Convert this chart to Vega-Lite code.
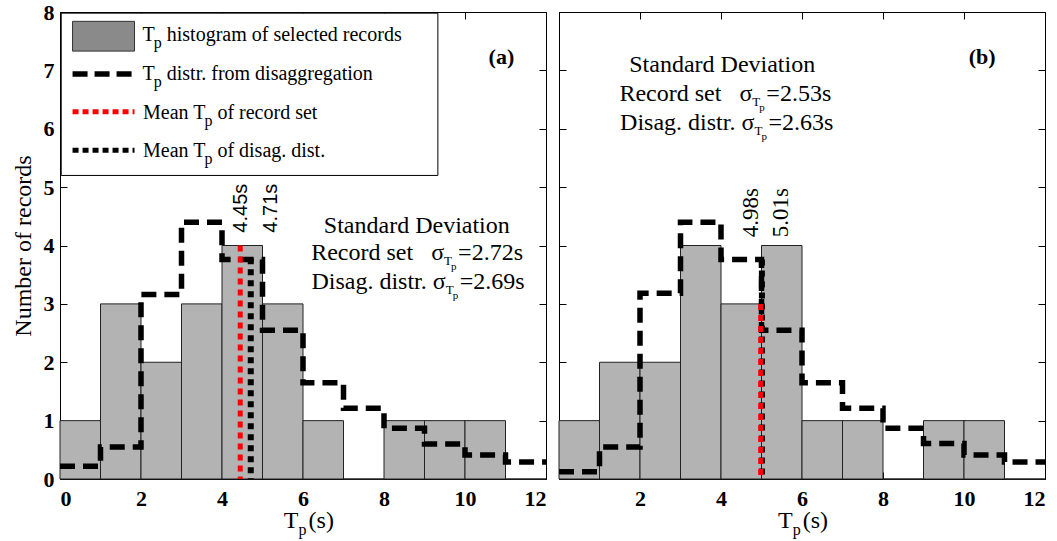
{
  "$schema": "https://vega.github.io/schema/vega-lite/v6.json",
  "background": "white",
  "padding": {"left": 10, "top": 0, "right": 0, "bottom": 0},
  "bounds": "flush",
  "spacing": 13,
  "config": {
    "view": {"stroke": "black", "strokeWidth": 1},
    "axis": {"domain": false, "grid": false, "tickColor": "black", "tickSize": -7, "tickWidth": 1,
      "labelFont": "Liberation Serif", "labelFontSize": 22, "labelFontWeight": "bold", "labelColor": "black", "labelPadding": 16,
      "titleFont": "Liberation Serif", "titleFontSize": 24, "titleFontWeight": "normal", "titleColor": "black"},
    "text": {"font": "Liberation Serif", "color": "black"}
  },
  "datasets": {
    "bars": [
      {"panel": "a", "start": 0, "end": 1, "count": 1}, {"panel": "a", "start": 1, "end": 2, "count": 3},
      {"panel": "a", "start": 2, "end": 3, "count": 2}, {"panel": "a", "start": 3, "end": 4, "count": 3},
      {"panel": "a", "start": 4, "end": 5, "count": 4}, {"panel": "a", "start": 5, "end": 6, "count": 3},
      {"panel": "a", "start": 6, "end": 7, "count": 1}, {"panel": "a", "start": 7, "end": 8, "count": 0},
      {"panel": "a", "start": 8, "end": 9, "count": 1}, {"panel": "a", "start": 9, "end": 10, "count": 1},
      {"panel": "a", "start": 10, "end": 11, "count": 1}, {"panel": "a", "start": 11, "end": 12, "count": 0},
      {"panel": "b", "start": 0, "end": 1, "count": 1}, {"panel": "b", "start": 1, "end": 2, "count": 2},
      {"panel": "b", "start": 2, "end": 3, "count": 2}, {"panel": "b", "start": 3, "end": 4, "count": 4},
      {"panel": "b", "start": 4, "end": 5, "count": 3}, {"panel": "b", "start": 5, "end": 6, "count": 4},
      {"panel": "b", "start": 6, "end": 7, "count": 1}, {"panel": "b", "start": 7, "end": 8, "count": 1},
      {"panel": "b", "start": 8, "end": 9, "count": 0}, {"panel": "b", "start": 9, "end": 10, "count": 1},
      {"panel": "b", "start": 10, "end": 11, "count": 1}, {"panel": "b", "start": 11, "end": 12, "count": 0}
    ],
    "steps": [
      {"panel": "a", "tp": 0, "n": 0.22}, {"panel": "a", "tp": 1, "n": 0.55}, {"panel": "a", "tp": 2, "n": 3.16},
      {"panel": "a", "tp": 3, "n": 4.40}, {"panel": "a", "tp": 4, "n": 3.76}, {"panel": "a", "tp": 5, "n": 2.55},
      {"panel": "a", "tp": 6, "n": 1.65}, {"panel": "a", "tp": 7, "n": 1.21}, {"panel": "a", "tp": 8, "n": 0.87},
      {"panel": "a", "tp": 9, "n": 0.60}, {"panel": "a", "tp": 10, "n": 0.41}, {"panel": "a", "tp": 11, "n": 0.29},
      {"panel": "a", "tp": 12, "n": 0.29},
      {"panel": "b", "tp": 0, "n": 0.125}, {"panel": "b", "tp": 1, "n": 0.55}, {"panel": "b", "tp": 2, "n": 3.18},
      {"panel": "b", "tp": 3, "n": 4.40}, {"panel": "b", "tp": 4, "n": 3.76}, {"panel": "b", "tp": 5, "n": 2.55},
      {"panel": "b", "tp": 6, "n": 1.65}, {"panel": "b", "tp": 7, "n": 1.21}, {"panel": "b", "tp": 8, "n": 0.87},
      {"panel": "b", "tp": 9, "n": 0.61}, {"panel": "b", "tp": 10, "n": 0.41}, {"panel": "b", "tp": 11, "n": 0.29},
      {"panel": "b", "tp": 12, "n": 0.29}
    ],
    "means": [
      {"panel": "a", "kind": "record", "tp": 4.45, "top": 4.0},
      {"panel": "a", "kind": "disag", "tp": 4.71, "top": 3.78},
      {"panel": "b", "kind": "record", "tp": 4.98, "top": 3.0},
      {"panel": "b", "kind": "disag", "tp": 5.01, "top": 3.76}
    ],
    "meanlabels": [
      {"panel": "a", "label": "4.45s", "lx": 4.48, "ly": 4.22},
      {"panel": "a", "label": "4.71s", "lx": 5.22, "ly": 4.22},
      {"panel": "b", "label": "4.98s", "lx": 4.73, "ly": 4.14},
      {"panel": "b", "label": "5.01s", "lx": 5.47, "ly": 4.14}
    ],
    "sdhead": [
      {"panel": "a", "text": "Standard Deviation", "x": 8.81, "y": 4.22},
      {"panel": "b", "text": "Standard Deviation", "x": 4.03, "y": 6.98}
    ],
    "sdlines": [
      {"panel": "a", "pre": "Record set\u00a0\u00a0\u00a0σ", "post": "=2.72s", "x": 9.83, "y": 3.76},
      {"panel": "a", "pre": "Disag. distr. σ", "post": "=2.69s", "x": 9.87, "y": 3.26},
      {"panel": "b", "pre": "Record set\u00a0\u00a0\u00a0σ", "post": "=2.53s", "x": 5.12, "y": 6.47},
      {"panel": "b", "pre": "Disag. distr. σ", "post": "=2.63s", "x": 5.17, "y": 5.98}
    ],
    "letters": [
      {"panel": "a", "text": "(a)", "x": 10.9, "y": 7.23},
      {"panel": "b", "text": "(b)", "x": 10.45, "y": 7.23}
    ],
    "xtitle": [
      {"panel": "a", "x": 5.89, "y": -0.84},
      {"panel": "b", "x": 5.77, "y": -0.84}
    ],
    "legendbox": [{"x": 0.03, "x2": 9.33, "y": 5.2, "y2": 7.98}],
    "legendswatch": [{"x": 0.31, "x2": 1.84, "y": 7.33, "y2": 7.84}],
    "legendlines": [
      {"item": "dist", "x": 0.31, "x2": 1.84, "y": 6.94},
      {"item": "meanrec", "x": 0.31, "x2": 1.84, "y": 6.29},
      {"item": "meandis", "x": 0.31, "x2": 1.84, "y": 5.63}
    ],
    "legendtext": [
      {"pre": "T", "post": "histogram of selected records", "x": 2.34, "y": 7.51},
      {"pre": "T", "post": "distr. from disaggregation", "x": 2.34, "y": 6.84},
      {"pre": "Mean T", "post": "of record set", "x": 3.59, "y": 6.17},
      {"pre": "Mean T", "post": "of disag. dist.", "x": 3.59, "y": 5.52}
    ]
  },
  "hconcat": [
    {
      "width": 486, "height": 467,
      "resolve": {"axis": {"x": "independent", "y": "independent"}},
      "layer": [
        {"data": {"name": "bars"}, "transform": [{"filter": "datum.panel == 'a'"}],
         "mark": {"type": "rect", "fill": "#b3b3b3", "stroke": "#222222", "strokeWidth": 1},
         "encoding": {
           "x": {"field": "start", "type": "quantitative", "scale": {"domain": [0, 12], "nice": false, "zero": false},
                 "axis": {"orient": "bottom", "values": [0, 2, 4, 6, 8, 10, 12], "title": null}},
           "x2": {"field": "end"},
           "y": {"field": "count", "type": "quantitative", "scale": {"domain": [0, 8], "nice": false},
                 "axis": {"orient": "left", "values": [0, 1, 2, 3, 4, 5, 6, 7, 8], "title": "Number of records", "titlePadding": 8, "labelPadding": 13}},
           "y2": {"datum": 0}
         }},
        {"data": {"name": "steps"}, "transform": [{"filter": "datum.panel == 'a'"}],
         "mark": {"type": "line", "interpolate": "step-after", "color": "black", "strokeWidth": 5.5, "strokeDash": [15, 8], "strokeCap": "butt"},
         "encoding": {
           "x": {"field": "tp", "type": "quantitative", "axis": {"orient": "top", "values": [0, 2, 4, 6, 8, 10, 12], "labels": false, "title": null}},
           "y": {"field": "n", "type": "quantitative", "axis": {"orient": "right", "values": [0, 1, 2, 3, 4, 5, 6, 7, 8], "labels": false, "title": null}}
         }},
        {"data": {"name": "means"}, "transform": [{"filter": "datum.panel == 'a' && datum.kind == 'disag'"}],
         "mark": {"type": "rule", "color": "black", "strokeWidth": 6, "strokeDash": [6, 5], "strokeCap": "butt"},
         "encoding": {"x": {"field": "tp", "type": "quantitative", "axis": null},
                      "y": {"field": "top", "type": "quantitative", "axis": null}, "y2": {"datum": 0}}},
        {"data": {"name": "means"}, "transform": [{"filter": "datum.panel == 'a' && datum.kind == 'record'"}],
         "mark": {"type": "rule", "color": "#ff0000", "strokeWidth": 5, "strokeDash": [6, 5], "strokeCap": "butt"},
         "encoding": {"x": {"field": "tp", "type": "quantitative", "axis": null},
                      "y": {"field": "top", "type": "quantitative", "axis": null}, "y2": {"datum": 0}}},
        {"data": {"name": "meanlabels"}, "transform": [{"filter": "datum.panel == 'a'"}],
         "mark": {"type": "text", "angle": 270, "align": "left", "baseline": "middle", "font": "Liberation Sans", "fontSize": 20},
         "encoding": {"x": {"field": "lx", "type": "quantitative", "axis": null}, "y": {"field": "ly", "type": "quantitative", "axis": null}, "text": {"field": "label"}}},
        {"data": {"name": "sdhead"}, "transform": [{"filter": "datum.panel == 'a'"}],
         "mark": {"type": "text", "align": "center", "baseline": "alphabetic", "fontSize": 24},
         "encoding": {"x": {"field": "x", "type": "quantitative", "axis": null}, "y": {"field": "y", "type": "quantitative", "axis": null}, "text": {"field": "text"}}},
        {"data": {"name": "sdlines"}, "transform": [{"filter": "datum.panel == 'a'"}],
         "mark": {"type": "text", "align": "right", "baseline": "alphabetic", "fontSize": 24, "dx": -14},
         "encoding": {"x": {"field": "x", "type": "quantitative", "axis": null}, "y": {"field": "y", "type": "quantitative", "axis": null}, "text": {"field": "pre"}}},
        {"data": {"name": "sdlines"}, "transform": [{"filter": "datum.panel == 'a'"}],
         "mark": {"type": "text", "align": "left", "baseline": "alphabetic", "fontSize": 13, "dx": -14, "dy": 5, "text": "T"},
         "encoding": {"x": {"field": "x", "type": "quantitative", "axis": null}, "y": {"field": "y", "type": "quantitative", "axis": null}}},
        {"data": {"name": "sdlines"}, "transform": [{"filter": "datum.panel == 'a'"}],
         "mark": {"type": "text", "align": "left", "baseline": "alphabetic", "fontSize": 11, "dx": -7, "dy": 10, "text": "p"},
         "encoding": {"x": {"field": "x", "type": "quantitative", "axis": null}, "y": {"field": "y", "type": "quantitative", "axis": null}}},
        {"data": {"name": "sdlines"}, "transform": [{"filter": "datum.panel == 'a'"}],
         "mark": {"type": "text", "align": "left", "baseline": "alphabetic", "fontSize": 24},
         "encoding": {"x": {"field": "x", "type": "quantitative", "axis": null}, "y": {"field": "y", "type": "quantitative", "axis": null}, "text": {"field": "post"}}},
        {"data": {"name": "letters"}, "transform": [{"filter": "datum.panel == 'a'"}],
         "mark": {"type": "text", "align": "center", "baseline": "middle", "fontSize": 22, "fontWeight": "bold"},
         "encoding": {"x": {"field": "x", "type": "quantitative", "axis": null}, "y": {"field": "y", "type": "quantitative", "axis": null}, "text": {"field": "text"}}},
        {"data": {"name": "xtitle"}, "transform": [{"filter": "datum.panel == 'a'"}],
         "mark": {"type": "text", "align": "right", "baseline": "alphabetic", "fontSize": 24, "text": "T"},
         "encoding": {"x": {"field": "x", "type": "quantitative", "axis": null}, "y": {"field": "y", "type": "quantitative", "axis": null}}},
        {"data": {"name": "xtitle"}, "transform": [{"filter": "datum.panel == 'a'"}],
         "mark": {"type": "text", "align": "left", "baseline": "alphabetic", "fontSize": 16, "dy": 7, "text": "p"},
         "encoding": {"x": {"field": "x", "type": "quantitative", "axis": null}, "y": {"field": "y", "type": "quantitative", "axis": null}}},
        {"data": {"name": "xtitle"}, "transform": [{"filter": "datum.panel == 'a'"}],
         "mark": {"type": "text", "align": "left", "baseline": "alphabetic", "fontSize": 24, "dx": 10, "text": "(s)"},
         "encoding": {"x": {"field": "x", "type": "quantitative", "axis": null}, "y": {"field": "y", "type": "quantitative", "axis": null}}},
        {"data": {"name": "legendbox"},
         "mark": {"type": "rect", "fill": "white", "stroke": "black", "strokeWidth": 1},
         "encoding": {"x": {"field": "x", "type": "quantitative", "axis": null}, "x2": {"field": "x2"},
                      "y": {"field": "y", "type": "quantitative", "axis": null}, "y2": {"field": "y2"}}},
        {"data": {"name": "legendswatch"},
         "mark": {"type": "rect", "fill": "#8a8a8a", "stroke": "#333333", "strokeWidth": 1},
         "encoding": {"x": {"field": "x", "type": "quantitative", "axis": null}, "x2": {"field": "x2"},
                      "y": {"field": "y", "type": "quantitative", "axis": null}, "y2": {"field": "y2"}}},
        {"data": {"name": "legendlines"}, "transform": [{"filter": "datum.item == 'dist'"}],
         "mark": {"type": "rule", "color": "black", "strokeWidth": 5.5, "strokeDash": [15, 7], "strokeCap": "butt"},
         "encoding": {"x": {"field": "x", "type": "quantitative", "axis": null}, "x2": {"field": "x2"}, "y": {"field": "y", "type": "quantitative", "axis": null}}},
        {"data": {"name": "legendlines"}, "transform": [{"filter": "datum.item == 'meanrec'"}],
         "mark": {"type": "rule", "color": "#ff0000", "strokeWidth": 5, "strokeDash": [6, 4], "strokeCap": "butt"},
         "encoding": {"x": {"field": "x", "type": "quantitative", "axis": null}, "x2": {"field": "x2"}, "y": {"field": "y", "type": "quantitative", "axis": null}}},
        {"data": {"name": "legendlines"}, "transform": [{"filter": "datum.item == 'meandis'"}],
         "mark": {"type": "rule", "color": "black", "strokeWidth": 5, "strokeDash": [6, 4], "strokeCap": "butt"},
         "encoding": {"x": {"field": "x", "type": "quantitative", "axis": null}, "x2": {"field": "x2"}, "y": {"field": "y", "type": "quantitative", "axis": null}}},
        {"data": {"name": "legendtext"},
         "mark": {"type": "text", "align": "right", "baseline": "alphabetic", "fontSize": 20},
         "encoding": {"x": {"field": "x", "type": "quantitative", "axis": null}, "y": {"field": "y", "type": "quantitative", "axis": null}, "text": {"field": "pre"}}},
        {"data": {"name": "legendtext"},
         "mark": {"type": "text", "align": "left", "baseline": "alphabetic", "fontSize": 16, "dx": -1, "dy": 7, "text": "p"},
         "encoding": {"x": {"field": "x", "type": "quantitative", "axis": null}, "y": {"field": "y", "type": "quantitative", "axis": null}}},
        {"data": {"name": "legendtext"},
         "mark": {"type": "text", "align": "left", "baseline": "alphabetic", "fontSize": 20, "dx": 12},
         "encoding": {"x": {"field": "x", "type": "quantitative", "axis": null}, "y": {"field": "y", "type": "quantitative", "axis": null}, "text": {"field": "post"}}}
      ]
    },
    {
      "width": 486, "height": 467,
      "resolve": {"axis": {"x": "independent", "y": "independent"}},
      "layer": [
        {"data": {"name": "bars"}, "transform": [{"filter": "datum.panel == 'b'"}],
         "mark": {"type": "rect", "fill": "#b3b3b3", "stroke": "#222222", "strokeWidth": 1},
         "encoding": {
           "x": {"field": "start", "type": "quantitative", "scale": {"domain": [0, 12], "nice": false, "zero": false},
                 "axis": {"orient": "bottom", "values": [0, 2, 4, 6, 8, 10, 12], "title": null, "labelExpr": "datum.value == 0 ? '' : datum.label"}},
           "x2": {"field": "end"},
           "y": {"field": "count", "type": "quantitative", "scale": {"domain": [0, 8], "nice": false},
                 "axis": {"orient": "left", "values": [0, 1, 2, 3, 4, 5, 6, 7, 8], "labels": false, "title": null}},
           "y2": {"datum": 0}
         }},
        {"data": {"name": "steps"}, "transform": [{"filter": "datum.panel == 'b'"}],
         "mark": {"type": "line", "interpolate": "step-after", "color": "black", "strokeWidth": 5.5, "strokeDash": [15, 8], "strokeCap": "butt"},
         "encoding": {
           "x": {"field": "tp", "type": "quantitative", "axis": {"orient": "top", "values": [0, 2, 4, 6, 8, 10, 12], "labels": false, "title": null}},
           "y": {"field": "n", "type": "quantitative", "axis": {"orient": "right", "values": [0, 1, 2, 3, 4, 5, 6, 7, 8], "labels": false, "title": null}}
         }},
        {"data": {"name": "means"}, "transform": [{"filter": "datum.panel == 'b' && datum.kind == 'disag'"}],
         "mark": {"type": "rule", "color": "black", "strokeWidth": 6, "strokeDash": [6, 5], "strokeCap": "butt"},
         "encoding": {"x": {"field": "tp", "type": "quantitative", "axis": null},
                      "y": {"field": "top", "type": "quantitative", "axis": null}, "y2": {"datum": 0}}},
        {"data": {"name": "means"}, "transform": [{"filter": "datum.panel == 'b' && datum.kind == 'record'"}],
         "mark": {"type": "rule", "color": "#ff0000", "strokeWidth": 5, "strokeDash": [6, 5], "strokeCap": "butt"},
         "encoding": {"x": {"field": "tp", "type": "quantitative", "axis": null},
                      "y": {"field": "top", "type": "quantitative", "axis": null}, "y2": {"datum": 0}}},
        {"data": {"name": "meanlabels"}, "transform": [{"filter": "datum.panel == 'b'"}],
         "mark": {"type": "text", "angle": 270, "align": "left", "baseline": "middle", "fontSize": 23},
         "encoding": {"x": {"field": "lx", "type": "quantitative", "axis": null}, "y": {"field": "ly", "type": "quantitative", "axis": null}, "text": {"field": "label"}}},
        {"data": {"name": "sdhead"}, "transform": [{"filter": "datum.panel == 'b'"}],
         "mark": {"type": "text", "align": "center", "baseline": "alphabetic", "fontSize": 24},
         "encoding": {"x": {"field": "x", "type": "quantitative", "axis": null}, "y": {"field": "y", "type": "quantitative", "axis": null}, "text": {"field": "text"}}},
        {"data": {"name": "sdlines"}, "transform": [{"filter": "datum.panel == 'b'"}],
         "mark": {"type": "text", "align": "right", "baseline": "alphabetic", "fontSize": 24, "dx": -14},
         "encoding": {"x": {"field": "x", "type": "quantitative", "axis": null}, "y": {"field": "y", "type": "quantitative", "axis": null}, "text": {"field": "pre"}}},
        {"data": {"name": "sdlines"}, "transform": [{"filter": "datum.panel == 'b'"}],
         "mark": {"type": "text", "align": "left", "baseline": "alphabetic", "fontSize": 13, "dx": -14, "dy": 5, "text": "T"},
         "encoding": {"x": {"field": "x", "type": "quantitative", "axis": null}, "y": {"field": "y", "type": "quantitative", "axis": null}}},
        {"data": {"name": "sdlines"}, "transform": [{"filter": "datum.panel == 'b'"}],
         "mark": {"type": "text", "align": "left", "baseline": "alphabetic", "fontSize": 11, "dx": -7, "dy": 10, "text": "p"},
         "encoding": {"x": {"field": "x", "type": "quantitative", "axis": null}, "y": {"field": "y", "type": "quantitative", "axis": null}}},
        {"data": {"name": "sdlines"}, "transform": [{"filter": "datum.panel == 'b'"}],
         "mark": {"type": "text", "align": "left", "baseline": "alphabetic", "fontSize": 24},
         "encoding": {"x": {"field": "x", "type": "quantitative", "axis": null}, "y": {"field": "y", "type": "quantitative", "axis": null}, "text": {"field": "post"}}},
        {"data": {"name": "letters"}, "transform": [{"filter": "datum.panel == 'b'"}],
         "mark": {"type": "text", "align": "center", "baseline": "middle", "fontSize": 22, "fontWeight": "bold"},
         "encoding": {"x": {"field": "x", "type": "quantitative", "axis": null}, "y": {"field": "y", "type": "quantitative", "axis": null}, "text": {"field": "text"}}},
        {"data": {"name": "xtitle"}, "transform": [{"filter": "datum.panel == 'b'"}],
         "mark": {"type": "text", "align": "right", "baseline": "alphabetic", "fontSize": 24, "text": "T"},
         "encoding": {"x": {"field": "x", "type": "quantitative", "axis": null}, "y": {"field": "y", "type": "quantitative", "axis": null}}},
        {"data": {"name": "xtitle"}, "transform": [{"filter": "datum.panel == 'b'"}],
         "mark": {"type": "text", "align": "left", "baseline": "alphabetic", "fontSize": 16, "dy": 7, "text": "p"},
         "encoding": {"x": {"field": "x", "type": "quantitative", "axis": null}, "y": {"field": "y", "type": "quantitative", "axis": null}}},
        {"data": {"name": "xtitle"}, "transform": [{"filter": "datum.panel == 'b'"}],
         "mark": {"type": "text", "align": "left", "baseline": "alphabetic", "fontSize": 24, "dx": 10, "text": "(s)"},
         "encoding": {"x": {"field": "x", "type": "quantitative", "axis": null}, "y": {"field": "y", "type": "quantitative", "axis": null}}}
      ]
    }
  ]
}
